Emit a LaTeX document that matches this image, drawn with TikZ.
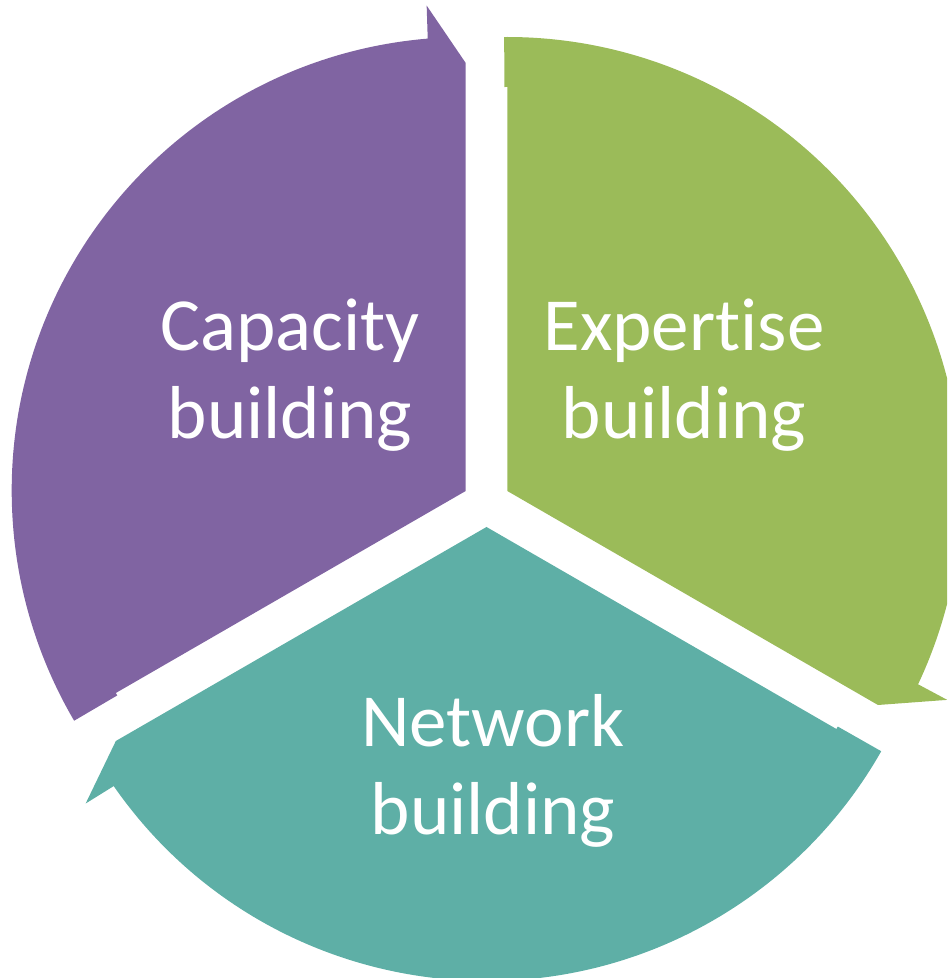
\documentclass[tikz,border=0pt]{standalone}
\usepackage{fontspec}
\setmainfont{Carlito}[Ligatures=NoCommon]

\definecolor{capacity}{HTML}{8064A2}
\definecolor{expertise}{HTML}{9BBB59}
\definecolor{network}{HTML}{5EAFA6}

\begin{document}
\begin{tikzpicture}[x=0.5pt, y=0.5pt,
  seg/.style={fill=#1, draw=none},
  lbl/.style={text=white, align=center, font=\fontsize{37.5}{44}\selectfont}]
\clip (0,0) rectangle (947,978);

% 扇形
\begin{scope}[shift={(465.7,487)}]
\fill[seg=capacity] (0,0) -- (90:428) -- (94.6:487) -- (94.8:454)
  arc[start angle=94.8, end angle=210.4, radius=454] -- (210.4:404) -- (210:404) -- cycle;
\end{scope}
\begin{scope}[shift={(507.3,487)}]
\fill[seg=expertise] (0,0) -- (-30:428) -- (-25.4:487) -- (-25.2:454)
  arc[start angle=-25.2, end angle=90.4, radius=454] -- (90.4:404) -- (90:404) -- cycle;
\end{scope}
\begin{scope}[shift={(486.5,451)}]
\fill[seg=network] (0,0) -- (210:428) -- (214.6:487) -- (214.8:454)
  arc[start angle=214.8, end angle=330.4, radius=454] -- (330.4:404) -- (330:404) -- cycle;
\end{scope}

% 文字
\node[lbl] (capacity) at (290,603) {Capacity\\building};
\node[lbl] (expertise) at (684,603) {Expertise\\building};
\node[lbl] (network) at (493,207) {Network\\building};
\end{tikzpicture}
\end{document}
